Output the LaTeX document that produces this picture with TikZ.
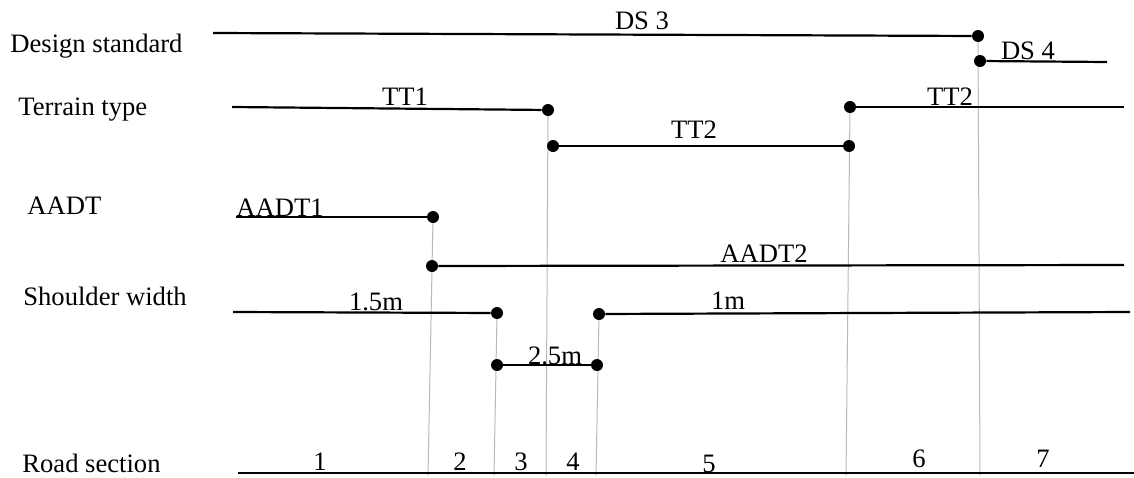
\documentclass[tikz,border=0pt]{standalone}
\usepackage{fontspec}
\setmainfont{Liberation Serif}
\usepackage{tikz}
\usetikzlibrary{backgrounds}
\tikzset{
  rowlabel/.style={anchor=base west,inner sep=0pt},
  seglabel/.style={anchor=base,inner sep=0pt},
  seg/.style={line width=1.1pt},
  guide/.style={gray!55,line width=0.5pt},
  dot/.style={circle,fill,inner sep=0pt,minimum size=6pt},
}

\begin{document}
\begin{tikzpicture}[x=0.5pt,y=-0.5pt,font=\fontsize{13.3}{15}\selectfont]
  \useasboundingbox (0,0) rectangle (1134,477);

  % row labels
  \node[rowlabel] (lds) at (10,52) {Design standard};
  \node[rowlabel] (ltt) at (18,115) {Terrain type};
  \node[rowlabel] (laadt) at (27,214) {AADT};
  \node[rowlabel] (lsw) at (23,305) {Shoulder width};
  \node[rowlabel] (lrs) at (22,472) {Road section};

  % change points
  \node[dot] (ds1) at (978,36) {};
  \node[dot] (ds2) at (980,61) {};
  \node[dot] (tt1) at (548,110) {};
  \node[dot] (tt2) at (553,146) {};
  \node[dot] (tt3) at (849,146) {};
  \node[dot] (tt4) at (850,107) {};
  \node[dot] (aa1) at (433,217) {};
  \node[dot] (aa2) at (432,266) {};
  \node[dot] (sw1) at (497,313) {};
  \node[dot] (sw2) at (497,365) {};
  \node[dot] (sw3) at (597,365) {};
  \node[dot] (sw4) at (599,314) {};

  % free ends
  \coordinate (ds0) at (213,33);
  \coordinate (ds5) at (1107,62);
  \coordinate (tt0) at (232,107);
  \coordinate (tt5) at (1124,107);
  \coordinate (aa0) at (236,217);
  \coordinate (aa3) at (1124,265);
  \coordinate (sw0) at (233,312);
  \coordinate (sw5) at (1130,312);
  \coordinate (rs0) at (238,473);
  \coordinate (rs1) at (1134,473);
  \coordinate (g1) at (428,476);
  \coordinate (g2) at (494,476);
  \coordinate (g3) at (546,476);
  \coordinate (g4) at (596,476);
  \coordinate (g5) at (846,476);
  \coordinate (g6) at (980,476);

  \begin{scope}[on background layer]
    \draw[guide] (aa1.center) -- (g1);
    \draw[guide] (sw1.center) -- (g2);
    \draw[guide] (tt1.center) -- (g3);
    \draw[guide] (sw4.center) -- (g4);
    \draw[guide] (tt4.center) -- (g5);
    \draw[guide] (ds1.center) -- (g6);
  \end{scope}

  \draw[seg] (ds0) -- (ds1);
  \draw[seg] (ds2) -- (ds5);
  \draw[seg] (tt0) -- (tt1);
  \draw[seg] (tt2) -- (tt3);
  \draw[seg] (tt4) -- (tt5);
  \draw[seg] (aa0) -- (aa1);
  \draw[seg] (aa2) -- (aa3);
  \draw[seg] (sw0) -- (sw1);
  \draw[seg] (sw2) -- (sw3);
  \draw[seg] (sw4) -- (sw5);
  \draw[seg] (rs0) -- (rs1);

  % segment values
  \node[seglabel] (vds3) at (642,29) {DS 3};
  \node[seglabel] (vds4) at (1028,59) {DS 4};
  \node[seglabel] (vtt1) at (405,105) {TT1};
  \node[seglabel] (vtt2a) at (694,138) {TT2};
  \node[seglabel] (vtt2b) at (950,105) {TT2};
  \node[seglabel] (vaa1) at (280,216) {AADT1};
  \node[seglabel] (vaa2) at (764,262) {AADT2};
  \node[seglabel] (vsw1) at (376,310) {1.5m};
  \node[seglabel] (vsw2) at (555,364) {2.5m};
  \node[seglabel] (vsw3) at (728,309) {1m};

  % section numbers
  \foreach \n/\x/\y in {1/320/470,2/460/470,3/521/470,4/573/470,5/709/472,6/919/467,7/1043/467}
    \node[seglabel] (rs\n) at (\x,\y) {\n};
\end{tikzpicture}
\end{document}
